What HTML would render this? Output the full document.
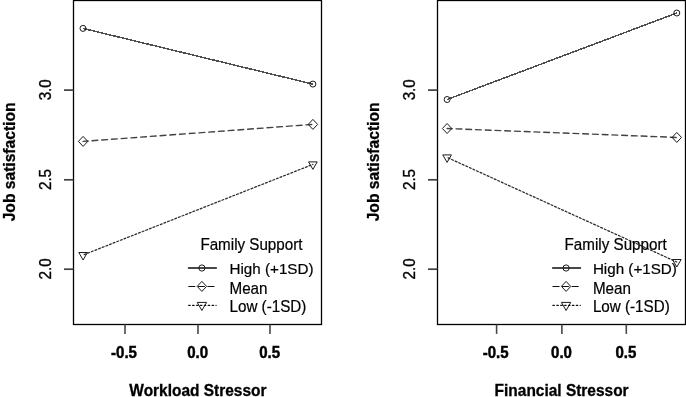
<!DOCTYPE html>
<html><head><meta charset="utf-8"><style>
html,body{margin:0;padding:0;background:#fff;}
svg{display:block;font-family:"Liberation Sans", sans-serif;filter:grayscale(1);}
</style></head><body>
<svg width="686" height="397" viewBox="0 0 686 397">
<rect width="686" height="397" fill="#fff"/>
<g fill="#000">
<rect x="73.5" y="0.5" width="248.0" height="324.0" fill="none" stroke="#000" stroke-width="1.3"/>
<line x1="64.0" y1="90.1" x2="73.5" y2="90.1" stroke="#404040" stroke-width="1.7"/>
<text transform="translate(51.4,89.8) rotate(-90) scale(0.95,1)" text-anchor="middle" font-size="16" stroke="#000" stroke-width="0.35">3.0</text>
<line x1="64.0" y1="179.8" x2="73.5" y2="179.8" stroke="#404040" stroke-width="1.7"/>
<text transform="translate(51.4,179.5) rotate(-90) scale(0.95,1)" text-anchor="middle" font-size="16" stroke="#000" stroke-width="0.35">2.5</text>
<line x1="64.0" y1="269.2" x2="73.5" y2="269.2" stroke="#404040" stroke-width="1.7"/>
<text transform="translate(51.4,268.9) rotate(-90) scale(0.95,1)" text-anchor="middle" font-size="16" stroke="#000" stroke-width="0.35">2.0</text>
<line x1="125" y1="324.5" x2="125" y2="333.9" stroke="#484848" stroke-width="1.6"/>
<text transform="translate(124.00,358) scale(0.94,1)" text-anchor="middle" font-size="16" font-weight="bold" stroke="#000" stroke-width="0.45">-0.5</text>
<line x1="198" y1="324.5" x2="198" y2="333.9" stroke="#484848" stroke-width="1.6"/>
<text transform="translate(197.60,358) scale(0.94,1)" text-anchor="middle" font-size="16" font-weight="bold" stroke="#000" stroke-width="0.45">0.0</text>
<line x1="270" y1="324.5" x2="270" y2="333.9" stroke="#484848" stroke-width="1.6"/>
<text transform="translate(269.60,358) scale(0.94,1)" text-anchor="middle" font-size="16" font-weight="bold" stroke="#000" stroke-width="0.45">0.5</text>
<text transform="translate(197.9,395.7) scale(0.967,1)" text-anchor="middle" font-size="16" font-weight="bold" stroke="#000" stroke-width="0.3">Workload Stressor</text>
<text transform="translate(14.5,161.9) rotate(-90) scale(0.977,1)" text-anchor="middle" font-size="16" font-weight="bold" stroke="#000" stroke-width="0.3">Job satisfaction</text>
<line x1="83.0" y1="28.4" x2="312.9" y2="84.1" stroke="#4e4e4e" stroke-width="1.5" shape-rendering="crispEdges"/>
<circle cx="83.00" cy="28.40" r="3.0" fill="none" stroke="#1a1a1a" stroke-width="1.0"/>
<circle cx="312.90" cy="84.10" r="3.0" fill="none" stroke="#1a1a1a" stroke-width="1.0"/>
<line x1="83.1" y1="141.4" x2="312.9" y2="124.4" stroke="#424242" stroke-width="1.4" stroke-dasharray="5.8 3.95" stroke-dashoffset="0.8" stroke-linecap="round"/>
<path d="M78.40,141.40L83.10,136.40L87.80,141.40L83.10,146.40Z" fill="none" stroke="#1a1a1a" stroke-width="1.0"/>
<path d="M308.20,124.40L312.90,119.40L317.60,124.40L312.90,129.40Z" fill="none" stroke="#1a1a1a" stroke-width="1.0"/>
<line x1="83.1" y1="255.0" x2="312.9" y2="164.4" stroke="#2a2a2a" stroke-width="1.25" stroke-dasharray="1.9 2.0" stroke-dashoffset="6.7" stroke-linecap="round"/>
<path d="M83.10,260.00L87.43,252.50L78.77,252.50Z" fill="none" stroke="#1a1a1a" stroke-width="1.0"/>
<path d="M312.90,169.40L317.23,161.90L308.57,161.90Z" fill="none" stroke="#1a1a1a" stroke-width="1.0"/>
<text transform="translate(200.4,249.6) scale(1,1.03)" font-size="15.2" stroke="#000" stroke-width="0.2">Family Support</text>
<line x1="188.7" y1="268" x2="216.1" y2="268" stroke="#484848" stroke-width="2.0" stroke-linecap="round"/>
<circle cx="201.90" cy="268.00" r="3.1" fill="none" stroke="#1a1a1a" stroke-width="1.0"/>
<text transform="translate(229.5,274.1) scale(1,1.0)" font-size="15.2" stroke="#000" stroke-width="0.2">High (+1SD)</text>
<line x1="188.7" y1="286.5" x2="216.1" y2="286.5" stroke="#111" stroke-width="1.1" stroke-dasharray="6.2 3.4" stroke-linecap="round"/>
<path d="M197.20,286.40L201.90,281.40L206.60,286.40L201.90,291.40Z" fill="none" stroke="#1a1a1a" stroke-width="1.0"/>
<text transform="translate(229.5,293.5) scale(1,1.06)" font-size="15.2" stroke="#000" stroke-width="0.2">Mean</text>
<line x1="188.7" y1="305.3" x2="216.1" y2="305.3" stroke="#111" stroke-width="1.3" stroke-dasharray="1.5 2.4" stroke-linecap="round"/>
<path d="M201.90,310.50L206.58,302.40L197.22,302.40Z" fill="none" stroke="#1a1a1a" stroke-width="1.0"/>
<text transform="translate(229.5,312.2) scale(1,1.06)" font-size="15.2" stroke="#000" stroke-width="0.2">Low (-1SD)</text>
<rect x="437.5" y="0.5" width="248.0" height="324.0" fill="none" stroke="#000" stroke-width="1.3"/>
<line x1="428.0" y1="90.1" x2="437.5" y2="90.1" stroke="#404040" stroke-width="1.7"/>
<text transform="translate(415.4,89.8) rotate(-90) scale(0.95,1)" text-anchor="middle" font-size="16" stroke="#000" stroke-width="0.35">3.0</text>
<line x1="428.0" y1="179.8" x2="437.5" y2="179.8" stroke="#404040" stroke-width="1.7"/>
<text transform="translate(415.4,179.5) rotate(-90) scale(0.95,1)" text-anchor="middle" font-size="16" stroke="#000" stroke-width="0.35">2.5</text>
<line x1="428.0" y1="269.2" x2="437.5" y2="269.2" stroke="#404040" stroke-width="1.7"/>
<text transform="translate(415.4,268.9) rotate(-90) scale(0.95,1)" text-anchor="middle" font-size="16" stroke="#000" stroke-width="0.35">2.0</text>
<line x1="496.6" y1="324.5" x2="496.6" y2="333.9" stroke="#484848" stroke-width="1.6"/>
<text transform="translate(495.60,358) scale(0.94,1)" text-anchor="middle" font-size="16" font-weight="bold" stroke="#000" stroke-width="0.45">-0.5</text>
<line x1="561.9" y1="324.5" x2="561.9" y2="333.9" stroke="#484848" stroke-width="1.6"/>
<text transform="translate(561.50,358) scale(0.94,1)" text-anchor="middle" font-size="16" font-weight="bold" stroke="#000" stroke-width="0.45">0.0</text>
<line x1="626.3" y1="324.5" x2="626.3" y2="333.9" stroke="#484848" stroke-width="1.6"/>
<text transform="translate(625.90,358) scale(0.94,1)" text-anchor="middle" font-size="16" font-weight="bold" stroke="#000" stroke-width="0.45">0.5</text>
<text transform="translate(561.6,395.7) scale(0.967,1)" text-anchor="middle" font-size="16" font-weight="bold" stroke="#000" stroke-width="0.3">Financial Stressor</text>
<text transform="translate(378.5,161.9) rotate(-90) scale(0.977,1)" text-anchor="middle" font-size="16" font-weight="bold" stroke="#000" stroke-width="0.3">Job satisfaction</text>
<line x1="447.1" y1="99.5" x2="676.8" y2="13.0" stroke="#4e4e4e" stroke-width="1.5" shape-rendering="crispEdges"/>
<circle cx="447.10" cy="99.50" r="3.0" fill="none" stroke="#1a1a1a" stroke-width="1.0"/>
<circle cx="676.80" cy="13.00" r="3.0" fill="none" stroke="#1a1a1a" stroke-width="1.0"/>
<line x1="447.1" y1="128.5" x2="676.8" y2="137.45" stroke="#424242" stroke-width="1.4" stroke-dasharray="5.8 3.95" stroke-dashoffset="0.8" stroke-linecap="round"/>
<path d="M442.40,128.50L447.10,123.50L451.80,128.50L447.10,133.50Z" fill="none" stroke="#1a1a1a" stroke-width="1.0"/>
<path d="M672.10,137.45L676.80,132.45L681.50,137.45L676.80,142.45Z" fill="none" stroke="#1a1a1a" stroke-width="1.0"/>
<line x1="447.1" y1="157.4" x2="676.8" y2="262.0" stroke="#2a2a2a" stroke-width="1.25" stroke-dasharray="1.9 2.0" stroke-dashoffset="6.7" stroke-linecap="round"/>
<path d="M447.10,162.40L451.43,154.90L442.77,154.90Z" fill="none" stroke="#1a1a1a" stroke-width="1.0"/>
<path d="M676.80,267.00L681.13,259.50L672.47,259.50Z" fill="none" stroke="#1a1a1a" stroke-width="1.0"/>
<text transform="translate(564.6,249.6) scale(1,1.03)" font-size="15.2" stroke="#000" stroke-width="0.2">Family Support</text>
<line x1="552.9" y1="268" x2="580.3" y2="268" stroke="#484848" stroke-width="2.0" stroke-linecap="round"/>
<circle cx="566.10" cy="268.00" r="3.1" fill="none" stroke="#1a1a1a" stroke-width="1.0"/>
<text transform="translate(592.9000000000001,274.1) scale(1,1.0)" font-size="15.2" stroke="#000" stroke-width="0.2">High (+1SD)</text>
<line x1="552.9" y1="286.5" x2="580.3" y2="286.5" stroke="#111" stroke-width="1.1" stroke-dasharray="6.2 3.4" stroke-linecap="round"/>
<path d="M561.40,286.40L566.10,281.40L570.80,286.40L566.10,291.40Z" fill="none" stroke="#1a1a1a" stroke-width="1.0"/>
<text transform="translate(592.9000000000001,293.5) scale(1,1.06)" font-size="15.2" stroke="#000" stroke-width="0.2">Mean</text>
<line x1="552.9" y1="305.3" x2="580.3" y2="305.3" stroke="#111" stroke-width="1.3" stroke-dasharray="1.5 2.4" stroke-linecap="round"/>
<path d="M566.10,310.50L570.78,302.40L561.42,302.40Z" fill="none" stroke="#1a1a1a" stroke-width="1.0"/>
<text transform="translate(592.9000000000001,312.2) scale(1,1.06)" font-size="15.2" stroke="#000" stroke-width="0.2">Low (-1SD)</text>
</g>
</svg>
</body></html>
